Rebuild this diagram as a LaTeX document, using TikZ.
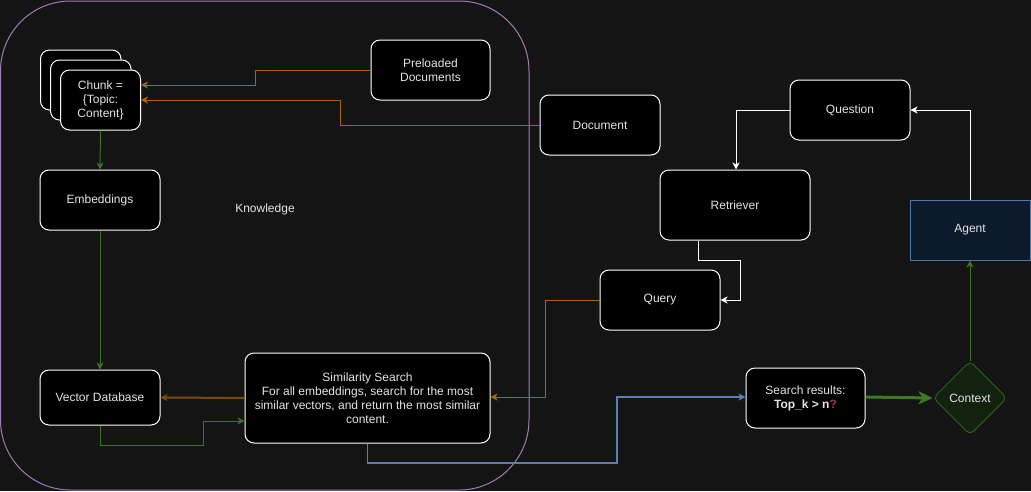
\documentclass[tikz,border=0pt]{standalone}
\usepackage{fontspec}
\setmainfont{Liberation Sans}
\usetikzlibrary{arrows.meta,shapes.geometric}
\definecolor{bg}{HTML}{141414}
\definecolor{txt}{HTML}{E4E4E4}
\definecolor{orangeline}{HTML}{A86400}
\definecolor{orangedark}{HTML}{7A4A05}
\definecolor{greenline}{HTML}{3E7320}
\definecolor{greenthick}{HTML}{3F7A22}
\definecolor{blueline}{HTML}{5B80B2}
\definecolor{purpleline}{HTML}{A07CB4}
\definecolor{agentfill}{HTML}{0C1A2B}
\definecolor{agentstroke}{HTML}{5078A8}
\definecolor{ctxfill}{HTML}{13210F}
\definecolor{ctxstroke}{HTML}{2F5C1C}
\definecolor{qmark}{HTML}{A3325E}
\tikzset{
  box/.style={draw=white, fill=black, rounded corners=9pt, line width=1pt,
    text=txt, align=center, inner sep=0pt, font=\fontsize{12}{14}\selectfont},
  tip/.style={-{Stealth[length=7pt,width=7pt,inset=2pt]}},
  orarrow/.style={tip, draw=orangeline, line width=1pt},
  grarrow/.style={tip, draw=greenline, line width=1pt},
  wharrow/.style={tip, draw=white, line width=1pt},
  lbl/.style={text=txt, font=\fontsize{12}{14}\selectfont, inner sep=0pt},
}
\begin{document}
\begin{tikzpicture}[x=1pt,y=-1pt]
\useasboundingbox[fill=bg] (0,0) rectangle (1031,491);
% Knowledge container
\draw[purpleline, line width=1pt, rounded corners=70pt] (0.5,1) rectangle (529,490);
\node[lbl] (know) at (265,209) {Knowledge};
% chunk stack
\node[box, minimum width=80.5pt, minimum height=60pt] (c1) at (80.75,80) {};
\node[box, minimum width=80.5pt, minimum height=60pt] (c2) at (90.75,90) {};
\node[box, minimum width=80pt, minimum height=60pt] (c3) at (100.5,100) {Chunk =\\\{Topic:\\Content\}};
% nodes
\node[box, minimum width=119pt, minimum height=60pt] (pre) at (430.5,70) {Preloaded\\Documents};
\node[box, minimum width=120pt, minimum height=60pt] (emb) at (100,200) {Embeddings};
\node[box, minimum width=120pt, minimum height=55pt] (vdb) at (100,397.5) {Vector Database};
\node[box, minimum width=245pt, minimum height=90pt] (sim) at (367.5,398) {Similarity Search\\For all embeddings, search for the most\\similar vectors, and return the most similar\\content.};
\node[box, minimum width=120pt, minimum height=60pt] (doc) at (600,125) {Document};
\node[box, minimum width=120pt, minimum height=60pt] (que) at (850,110) {Question};
\node[box, minimum width=150pt, minimum height=70pt] (ret) at (735,205) {Retriever};
\node[box, minimum width=120pt, minimum height=60pt] (qry) at (660,300) {Query};
\node[box, draw=agentstroke, fill=agentfill, rounded corners=0pt, minimum width=120pt, minimum height=60pt] (agent) at (970,230) {Agent};
\node[box, minimum width=119pt, minimum height=60pt] (sr) at (805.5,398) {Search results:\\\textbf{Top\_k > n\textcolor{qmark}{?}}};
\node[diamond, draw=ctxstroke, fill=ctxfill, line width=1pt, rounded corners=5pt, minimum width=74pt, minimum height=74pt, inner sep=0pt, text=txt, font=\fontsize{12}{14}\selectfont] (ctx) at (970,398) {Context};
% connectors
\draw[orarrow] (pre.west) -- (255,70) -- (255,85) -- (c3.east |- 0,85);
\draw[orarrow] (doc.west) -- (340,125) -- (340,100) -- (c3.east);
\draw[grarrow] (c3.south) -- (emb.north);
\draw[grarrow] (emb.south) -- (vdb.north);
\draw[-{Stealth[length=7pt,width=7pt,inset=2pt,fill=orangeline]}, draw=orangedark, line width=2pt] (sim.west) -- (vdb.east);
\draw[grarrow] (vdb.south) -- (100,445) -- (203,445) -- (203,421) -- (sim.west |- 0,421);
\draw[tip, draw=blueline, line width=1.5pt] (sim.south) -- (367.5,463) -- (617,463) -- (617,397) -- (sr.west |- 0,397);
\draw[wharrow] (que.west) -- (736,110) -- (ret.north -| 736,0);
\draw[wharrow] (agent.north) -- (970,110) -- (que.east);
\draw[wharrow] (ret.south -| 698,0) -- (698,260) -- (740,260) -- (740,300) -- (qry.east);
\draw[orarrow] (qry.west) -- (545,300) -- (545,397) -- (sim.east |- 0,397);
\draw[-{Stealth[length=14pt,width=13pt,inset=4pt]}, draw=greenthick, line width=3pt] (sr.east |- 0,397) -- (ctx.west);
\draw[grarrow] (ctx.north) -- (agent.south);
\end{tikzpicture}
\end{document}
